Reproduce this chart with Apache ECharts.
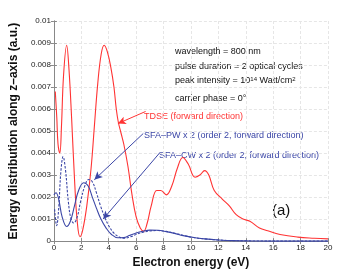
<!DOCTYPE html>
<html><head><meta charset="utf-8">
<script src="https://cdn.jsdelivr.net/npm/echarts@6/dist/echarts.min.js"></script>
<style>html,body{margin:0;padding:0;background:#fff}#c{width:363px;height:274px}</style>
</head><body><div id="c"></div>
<script>
// TDSE (forward direction): [energy eV, value]
const tdse = [[0.1,0.0068],[0.21,0.0056],[0.3,0.0044],[0.43,0.0040],[0.55,0.0052],[0.7,0.0075],[0.93,0.0089],[1.1,0.0078],[1.29,0.0056],[1.52,0.0026],[1.7,0.0009],[1.9,0.0002],[2.1,0.0005],[2.4,0.0016],[2.71,0.0033],[2.95,0.0052],[3.19,0.0071],[3.45,0.0085],[3.67,0.0089],[3.9,0.0086],[4.15,0.0079],[4.38,0.0070],[4.55,0.0060],[4.7,0.0054],[4.9,0.0049],[5.1,0.0044],[5.4,0.0034],[5.7,0.0021],[6.0,0.0011],[6.3,0.0006],[6.55,0.00045],[6.8,0.0008],[7.1,0.0016],[7.5,0.0023],[7.8,0.0023],[8.2,0.0021],[8.6,0.0025],[9.0,0.0033],[9.4,0.0038],[9.8,0.0035],[10.3,0.0029],[10.65,0.0030],[11.0,0.0032],[11.3,0.0030],[11.7,0.0023],[12.3,0.0019],[12.8,0.0016],[13.3,0.0012],[13.8,0.0010],[14.3,0.0009],[15.0,0.0006],[15.6,0.00047],[16.5,0.0003],[17.8,0.00018],[19.0,0.00013],[20.0,0.0001]];
// SFA-PW x 2 (dashed)
const sfaPW = [[0.05,0.00145],[0.2,0.0007],[0.35,0.0015],[0.5,0.0031],[0.67,0.00384],[0.85,0.0032],[1.05,0.0018],[1.25,0.0010],[1.45,0.00082],[1.7,0.0011],[1.95,0.0018],[2.25,0.0025],[2.55,0.0028],[2.8,0.0027],[3.1,0.0022],[3.4,0.0016],[3.7,0.0011],[4.0,0.0007],[4.4,0.00035],[4.8,0.00018],[5.14,0.00013],[5.6,0.0002],[6.0,0.0003],[6.5,0.0004],[7.0,0.00046],[7.6,0.00048],[8.2,0.00044],[8.8,0.00036],[9.5,0.00025],[10.2,0.00016],[11.0,0.0001],[12.0,0.00005],[13.0,0.00002],[14.0,0.00001],[16.0,0.0],[20.0,0.0]];
// SFA-CW x 2 (solid)
const sfaCW = [[0.0,0.0021],[0.15,0.0022],[0.35,0.0019],[0.6,0.0011],[0.93,0.00066],[1.2,0.0009],[1.5,0.0016],[1.8,0.0023],[2.17,0.00265],[2.5,0.0025],[2.8,0.0020],[3.1,0.0015],[3.43,0.0010],[3.8,0.0006],[4.2,0.0003],[4.67,0.00015],[5.1,0.00016],[5.5,0.00025],[6.0,0.00037],[6.5,0.00045],[7.0,0.0005],[7.6,0.00049],[8.2,0.00043],[8.8,0.00035],[9.43,0.00025],[10.2,0.00016],[11.0,0.0001],[12.0,0.00005],[13.0,0.00002],[14.0,0.00001],[16.0,0.0],[20.0,0.0]];
// arrows: [from, to] in data coords
const arrowTDSE = [[6.69,0.00589],[4.67,0.00534]];
const arrowPW = [[6.52,0.00489],[2.95,0.00279]];
const arrowCW = [[7.76,0.00404],[3.59,0.00100]];
const xTicks = [0,2,4,6,8,10,12,14,16,18,20];
const yTicks = [0,0.001,0.002,0.003,0.004,0.005,0.006,0.007,0.008,0.009,0.01];

const RED = '#ff3333', BLUE = '#3b46a6';
const chart = echarts.init(document.getElementById('c'));
const axisCommon = {
  axisLine:{show:true,lineStyle:{color:'#888',width:1}},
  axisTick:{show:true,inside:true,length:3,lineStyle:{color:'#888'}},
};
function arrowLine(a,color){
  return {silent:true,symbol:['none','arrow'],symbolSize:[6,8],label:{show:false},
    lineStyle:{color:color,width:1,type:'solid'},
    data:[[{coord:a[0]},{coord:a[1]}]]};
}
chart.setOption({
  animation:false,
  textStyle:{fontFamily:'Liberation Sans, Arial, sans-serif'},
  grid:{left:48,right:35,top:21,bottom:30},
  xAxis:[{type:'value',min:xTicks[0],max:xTicks[xTicks.length-1],interval:2,
    ...axisCommon,
    axisLabel:{fontSize:8,color:'#222',margin:3},
    splitLine:{show:true,lineStyle:{color:'#e6e6e6',type:[3,2]}},
    name:'Electron energy (eV)',nameLocation:'middle',nameGap:13,
    nameTextStyle:{fontSize:12,fontWeight:'bold',color:'#111'}},
    {type:'value',position:'top',min:0,max:20,interval:2,...axisCommon,axisLabel:{show:false},splitLine:{show:false}}],
  yAxis:[{type:'value',min:yTicks[0],max:yTicks[yTicks.length-1],interval:0.001,
    ...axisCommon,
    axisLabel:{fontSize:8,color:'#222',margin:3,formatter:v=>String(parseFloat(v.toFixed(3)))},
    splitLine:{show:true,lineStyle:{color:'#e6e6e6',type:[3,2]}},
    name:'Energy distribution along z\u2013axis (a.u.)',nameLocation:'middle',nameGap:25,
    nameTextStyle:{fontSize:12,fontWeight:'bold',color:'#111'}},
    {type:'value',position:'right',min:0,max:0.01,interval:0.001,...axisCommon,axisLabel:{show:false},splitLine:{show:false}}],
  series:[
    {type:'line',data:tdse,smooth:0.4,showSymbol:false,lineStyle:{color:RED,width:1.1},
      markLine:arrowLine(arrowTDSE,RED)},
    {type:'line',data:sfaCW,smooth:0.4,showSymbol:false,lineStyle:{color:BLUE,width:1.1},
      markLine:arrowLine(arrowCW,BLUE)},
    {type:'line',data:sfaPW,smooth:0.4,showSymbol:false,lineStyle:{color:BLUE,width:1.1,type:[2.5,1.5]},
      markLine:arrowLine(arrowPW,BLUE)}
  ],
  graphic:[
    {type:'text',left:175,top:47,style:{text:'wavelength = 800 nm',fontSize:9,fill:'#111',fontFamily:'Liberation Sans'}},
    {type:'text',left:175,top:62,style:{text:'pulse duration = 2 optical cycles',fontSize:9,fill:'#111',fontFamily:'Liberation Sans'}},
    {type:'text',left:175,top:76,style:{text:'peak intensity = 10{s|14} Watt/cm{s|2}',fontSize:9,fill:'#111',fontFamily:'Liberation Sans',
      rich:{s:{fontSize:6,verticalAlign:'top',lineHeight:6,fill:'#111'}}}},
    {type:'text',left:175,top:94,style:{text:'carrier phase = 0\u00b0',fontSize:9,fill:'#111',fontFamily:'Liberation Sans'}},
    {type:'text',left:144,top:112,style:{text:'TDSE (forward direction)',fontSize:9,fill:RED,fontFamily:'Liberation Sans'}},
    {type:'text',left:144,top:131,style:{text:'SFA\u2013PW x 2 (order 2, forward direction)',fontSize:9,fill:BLUE,fontFamily:'Liberation Sans'}},
    {type:'text',left:159,top:151,style:{text:'SFA\u2013CW x 2 (order 2, forward direction)',fontSize:9,fill:BLUE,fontFamily:'Liberation Sans'}},
    {type:'text',left:272,top:203,style:{text:'(a)',fontSize:15,fill:'#111',fontFamily:'Liberation Sans'}}
  ]
});
</script></body></html>
